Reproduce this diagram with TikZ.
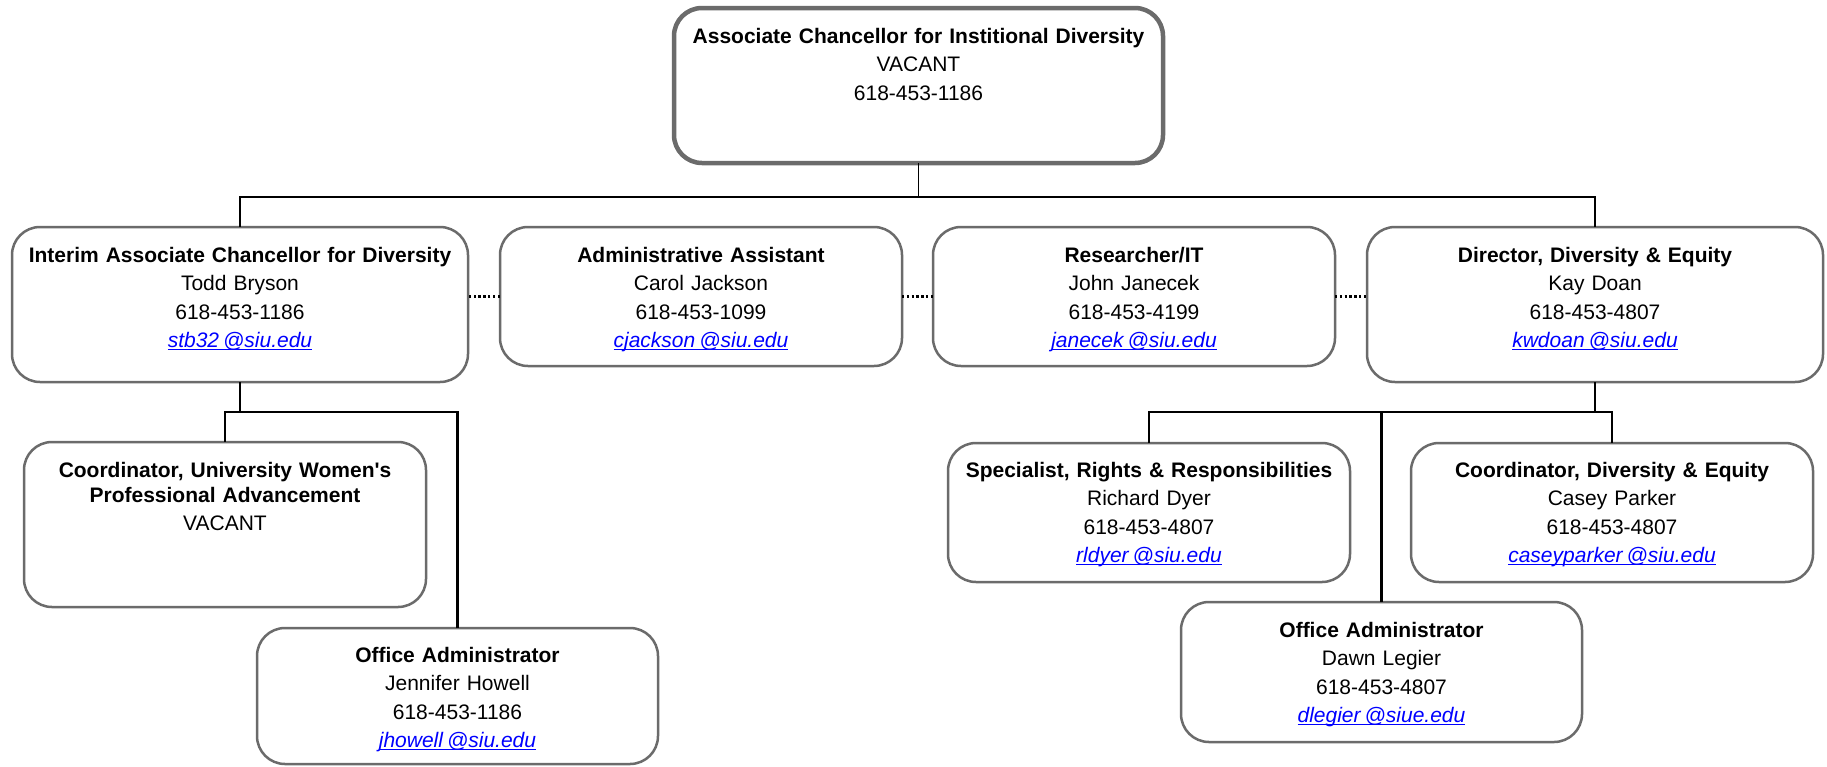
\documentclass[tikz,border=0pt]{standalone}
\usepackage{fontspec}
\setmainfont{Liberation Sans}[Ligatures=TeXOff]
\definecolor{boxgray}{HTML}{6B6B6B}
\definecolor{linkblue}{HTML}{0000FF}
\newcommand\mylink[1]{\leavevmode{\color{linkblue}\itshape\setbox0\hbox{#1}\rlap{\rule[-2.4pt]{\wd0}{1.1pt}}\box0}}
\tikzset{
  orgbox/.style={draw=boxgray, line width=2.5pt, rounded corners=28pt, fill=white,
    inner xsep=0pt, inner ysep=0pt, outer sep=0pt, align=center, anchor=north west,
    font=\fontsize{21}{28.5}\selectfont},
  headbox/.style={orgbox, line width=4.5pt},
  conn/.style={draw=black, line width=1.3pt},
  subconn/.style={draw=black, line width=2.6pt},
  dotline/.style={draw=black, line width=2.6pt, dash pattern=on 2.4pt off 2.4pt}
}
\begin{document}
\begin{tikzpicture}[x=1pt,y=-1pt]
\useasboundingbox (0,0) rectangle (1827,766);

\node[headbox, text width=489pt, text height=35pt, text depth=120pt] (top) at (674,8)
  {\textbf{Associate Chancellor for Institional Diversity}\\VACANT\\618-453-1186};

\node[orgbox, text width=456pt, text height=35pt, text depth=120pt] (interim) at (12,227)
  {\textbf{Interim Associate Chancellor for Diversity}\\Todd Bryson\\618-453-1186\\\mylink{stb32\hspace{4pt}@siu.edu}};

\node[orgbox, text width=402pt, text height=35pt, text depth=104pt] (admin) at (500,227)
  {\textbf{Administrative Assistant}\\Carol Jackson\\618-453-1099\\\mylink{cjackson\hspace{4pt}@siu.edu}};

\node[orgbox, text width=402pt, text height=35pt, text depth=104pt] (research) at (933,227)
  {\textbf{Researcher/IT}\\John Janecek\\618-453-4199\\\mylink{janecek\hspace{4pt}@siu.edu}};

\node[orgbox, text width=456pt, text height=35pt, text depth=120pt] (director) at (1367,227)
  {\textbf{Director, Diversity \& Equity}\\Kay Doan\\618-453-4807\\\mylink{kwdoan\hspace{4pt}@siu.edu}};

\node[orgbox, text width=402pt, text height=35pt, text depth=130pt] (cuwpa) at (24,442)
  {\textbf{Coordinator, University Women's}\\[-3.5pt]\textbf{Professional Advancement}\\VACANT};

\node[orgbox, text width=401pt, text height=34pt, text depth=102pt] (jhowell) at (257,628)
  {\textbf{Office Administrator}\\Jennifer Howell\\618-453-1186\\\mylink{jhowell\hspace{4pt}@siu.edu}};

\node[orgbox, text width=402pt, text height=34pt, text depth=105pt] (spec) at (948,443)
  {\textbf{Specialist, Rights \& Responsibilities}\\Richard Dyer\\618-453-4807\\\mylink{rldyer\hspace{4pt}@siu.edu}};

\node[orgbox, text width=402pt, text height=34pt, text depth=105pt] (cde) at (1411,443)
  {\textbf{Coordinator, Diversity \& Equity}\\Casey Parker\\618-453-4807\\\mylink{caseyparker\hspace{4pt}@siu.edu}};

\node[orgbox, text width=401pt, text height=35pt, text depth=105pt] (dawn) at (1181,602)
  {\textbf{Office Administrator}\\Dawn Legier\\618-453-4807\\\mylink{dlegier\hspace{4pt}@siue.edu}};

% connectors
\draw[conn] (top.south) -- ++(0,34) -| (interim.north);
\draw[conn] (top.south) -- ++(0,34) -| (director.north);

\draw[subconn] (interim.south) -- ++(0,30) -| (cuwpa.north);
\draw[subconn] (interim.south) -- ++(0,30) -| (jhowell.north);

\draw[subconn] (director.south) -- ++(0,30) -| (spec.north);
\draw[subconn] (director.south) -- ++(0,30) -| (dawn.north);
\draw[subconn] (director.south) -- ++(0,30) -| (cde.north);

\draw[dotline] (admin.west) -- (admin.west -| interim.east);
\draw[dotline] (admin.east) -- (research.west);
\draw[dotline] (research.east) -- (research.east -| director.west);
\end{tikzpicture}
\end{document}
